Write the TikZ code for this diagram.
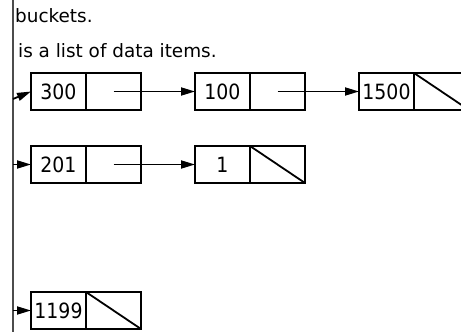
\documentclass[tikz,border=0pt]{standalone}
\usepackage{fontspec}
\setmainfont{DejaVu Sans}
\newfontfamily\numfont{DejaVu Sans Condensed}
\usetikzlibrary{arrows.meta}
\begin{document}
\begin{tikzpicture}[x=1pt,y=-1pt,
  cell/.style={draw, line width=2pt, minimum width=55pt, minimum height=37pt,
    inner sep=0pt, outer sep=0pt, anchor=north west, font=\numfont\fontsize{21}{21}\selectfont},
  ptr/.style={line width=1.8pt, -{Triangle[length=14pt,width=8pt]}},
  nullptr/.style={line width=1.8pt},
  caption/.style={anchor=base west, inner sep=0pt, font=\fontsize{18.4}{20}\selectfont}]
\useasboundingbox (0,0) rectangle (461,332);
\clip (0,0) rectangle (461,332);

% bucket array edge
\draw[gray!60!black, line width=1.3pt] (13,0) -- (13,332);

% captions
\node[caption] (t1) at (15,22) {buckets.};
\node[caption] (t2) at (18,57) {is a list of data items.};

% bucket 1: 300 -> 100 -> 1500
\node[cell] (a1) at (31,73) {300};
\node[cell] (a1p) at (86,73) {};
\node[cell] (a2) at (195,73) {100};
\node[cell] (a2p) at (250,73) {};
\node[cell] (a3) at (359,73) {1500};
\node[cell] (a3p) at (414,73) {};
\coordinate (h1) at (13,99);
\draw[ptr] (h1) -- (a1.west);
\draw[ptr] (a1p.center) -- (a2.west);
\draw[ptr] (a2p.center) -- (a3.west);
\draw[nullptr] (a3p.north west) -- (a3p.south east);

% bucket 2: 201 -> 1
\node[cell] (b1) at (31,146) {201};
\node[cell] (b1p) at (86,146) {};
\node[cell] (b2) at (195,146) {1};
\node[cell] (b2p) at (250,146) {};
\coordinate (h2) at (13,164.5);
\draw[ptr] (h2) -- (b1.west);
\draw[ptr] (b1p.center) -- (b2.west);
\draw[nullptr] (b2p.north west) -- (b2p.south east);

% bucket 3: 1199
\node[cell] (c1) at (31,292) {1199};
\node[cell] (c1p) at (86,292) {};
\coordinate (h3) at (13,310.5);
\draw[ptr] (h3) -- (c1.west);
\draw[nullptr] (c1p.north west) -- (c1p.south east);
\end{tikzpicture}
\end{document}
